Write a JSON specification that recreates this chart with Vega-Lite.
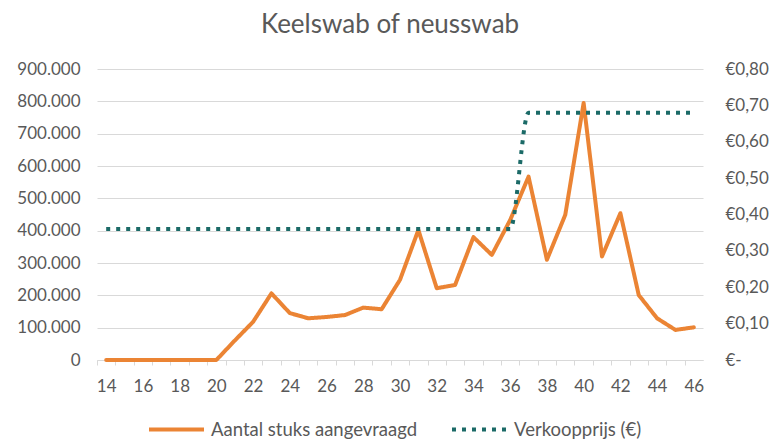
{
  "$schema": "https://vega.github.io/schema/vega-lite/v6.json",
  "width": 606,
  "height": 291,
  "autosize": {"type": "none"},
  "padding": {"left": 97, "top": 69, "right": 72, "bottom": 82},
  "background": "white",
  "title": {"text": "Keelswab of neusswab", "font": "Lato", "fontSize": 26, "fontWeight": "normal", "color": "#595959", "offset": 22, "dx": -10},
  "data": {"values": [
    {"week": 14, "aantal": 0, "prijs": 0.36},
    {"week": 15, "aantal": 0, "prijs": 0.36},
    {"week": 16, "aantal": 0, "prijs": 0.36},
    {"week": 17, "aantal": 0, "prijs": 0.36},
    {"week": 18, "aantal": 0, "prijs": 0.36},
    {"week": 19, "aantal": 0, "prijs": 0.36},
    {"week": 20, "aantal": 0, "prijs": 0.36},
    {"week": 21, "aantal": 60000, "prijs": 0.36},
    {"week": 22, "aantal": 118000, "prijs": 0.36},
    {"week": 23, "aantal": 206000, "prijs": 0.36},
    {"week": 24, "aantal": 145000, "prijs": 0.36},
    {"week": 25, "aantal": 129000, "prijs": 0.36},
    {"week": 26, "aantal": 133000, "prijs": 0.36},
    {"week": 27, "aantal": 139000, "prijs": 0.36},
    {"week": 28, "aantal": 162000, "prijs": 0.36},
    {"week": 29, "aantal": 157000, "prijs": 0.36},
    {"week": 30, "aantal": 248000, "prijs": 0.36},
    {"week": 31, "aantal": 402000, "prijs": 0.36},
    {"week": 32, "aantal": 222000, "prijs": 0.36},
    {"week": 33, "aantal": 232000, "prijs": 0.36},
    {"week": 34, "aantal": 380000, "prijs": 0.36},
    {"week": 35, "aantal": 325000, "prijs": 0.36},
    {"week": 36, "aantal": 433000, "prijs": 0.36},
    {"week": 37, "aantal": 567000, "prijs": 0.68},
    {"week": 38, "aantal": 310000, "prijs": 0.68},
    {"week": 39, "aantal": 449000, "prijs": 0.68},
    {"week": 40, "aantal": 795000, "prijs": 0.68},
    {"week": 41, "aantal": 320000, "prijs": 0.68},
    {"week": 42, "aantal": 454000, "prijs": 0.68},
    {"week": 43, "aantal": 201000, "prijs": 0.68},
    {"week": 44, "aantal": 129000, "prijs": 0.68},
    {"week": 45, "aantal": 93000, "prijs": 0.68},
    {"week": 46, "aantal": 101000, "prijs": 0.68}
  ]},
  "transform": [{"fold": ["aantal", "prijs"], "as": ["series", "value"]}],
  "encoding": {
    "x": {
      "field": "week", "type": "ordinal",
      "scale": {"type": "point", "padding": 0.5},
      "axis": {
        "title": null, "labelAngle": 0, "labelOverlap": false,
        "labelExpr": "datum.value % 2 == 0 ? datum.label : ''",
        "tickOffset": -9.18, "labelOffset": 9.18,
        "ticks": true, "tickSize": 5, "tickColor": "#d9d9d9",
        "domain": true, "domainColor": "#d9d9d9", "labelPadding": 13, "grid": false
      }
    },
    "color": {
      "field": "series", "type": "nominal",
      "scale": {"domain": ["aantal", "prijs"], "range": ["#EB8434", "#1B6A67"]},
      "legend": {"title": null, "labelExpr": "datum.label == 'aantal' ? 'Aantal stuks aangevraagd' : 'Verkoopprijs (€)'"}
    },
    "strokeDash": {
      "field": "series", "type": "nominal",
      "scale": {"domain": ["aantal", "prijs"], "range": [[1, 0], [4, 6]]},
      "legend": {"title": null, "labelExpr": "datum.label == 'aantal' ? 'Aantal stuks aangevraagd' : 'Verkoopprijs (€)'"}
    }
  },
  "layer": [
    {
      "transform": [{"filter": "datum.series == 'aantal'"}],
      "mark": {"type": "line", "strokeWidth": 4, "strokeJoin": "round", "strokeCap": "round"},
      "encoding": {
        "y": {
          "field": "value", "type": "quantitative",
          "scale": {"domain": [0, 900000], "nice": false},
          "axis": {
            "orient": "left", "title": null,
            "values": [0, 100000, 200000, 300000, 400000, 500000, 600000, 700000, 800000, 900000],
            "labelExpr": "replace(format(datum.value, ','), ',', '.')",
            "grid": true, "gridColor": "#d9d9d9", "gridWidth": 1,
            "ticks": false, "domain": false, "labelPadding": 17
          }
        }
      }
    },
    {
      "transform": [{"filter": "datum.series == 'prijs'"}],
      "mark": {"type": "line", "strokeWidth": 4, "interpolate": "monotone"},
      "encoding": {
        "y": {
          "field": "value", "type": "quantitative",
          "scale": {"domain": [0, 0.8], "nice": false},
          "axis": {
            "orient": "right", "title": null,
            "values": [0, 0.1, 0.2, 0.3, 0.4, 0.5, 0.6, 0.7, 0.8],
            "labelExpr": "datum.value == 0 ? '€-' : '€' + replace(format(datum.value, '.2f'), '.', ',')",
            "grid": false, "ticks": false, "domain": false, "labelPadding": 22, "labelAlign": "left"
          }
        }
      }
    }
  ],
  "resolve": {"scale": {"y": "independent"}},
  "config": {
    "view": {"stroke": null},
    "axis": {"labelFont": "Lato", "labelFontSize": 17, "labelColor": "#595959"},
    "legend": {
      "orient": "none", "legendX": 50, "legendY": 331, "direction": "horizontal",
      "symbolType": "stroke", "symbolSize": 3025, "symbolStrokeWidth": 4,
      "labelFont": "Lato", "labelFontSize": 18.5, "labelColor": "#595959", "labelLimit": 400,
      "columnPadding": 26, "labelOffset": 5
    }
  }
}
